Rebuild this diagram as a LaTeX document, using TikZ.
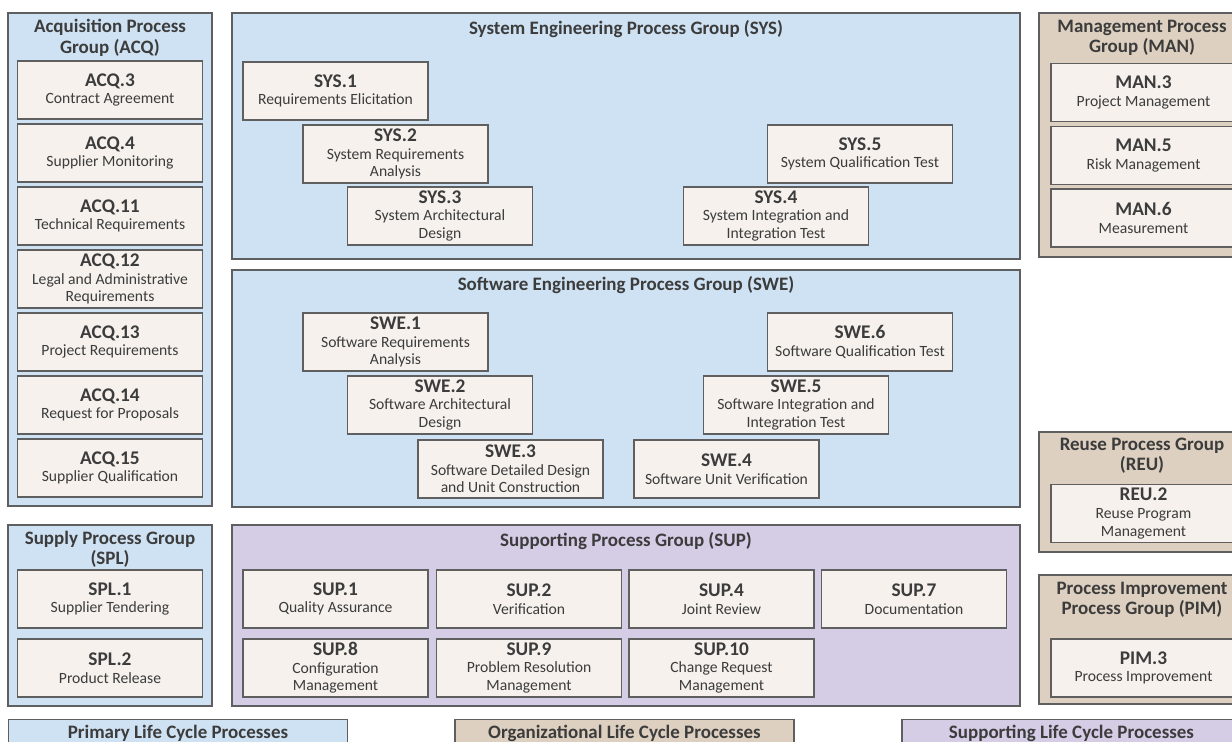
\documentclass[tikz,border=0pt]{standalone}
\usepackage{fontspec}
\setmainfont{Carlito}
\usepackage{tikz}

\definecolor{grpblue}{RGB}{207,226,243}
\definecolor{grptan}{RGB}{221,208,192}
\definecolor{grppurple}{RGB}{213,204,230}
\definecolor{boxbeige}{RGB}{246,241,236}
\definecolor{edgegray}{RGB}{95,95,95}
\definecolor{textgray}{RGB}{60,60,60}

\tikzset{
  grp/.style={draw=edgegray,line width=0.7pt},
  grptitle/.style={align=center,text=textgray,inner sep=0pt,
    font=\fontsize{10.8}{11.6}\bfseries\selectfont},
  proc/.style={draw=edgegray,line width=0.7pt,fill=boxbeige,
    minimum width=3.7cm,minimum height=1.16cm,inner sep=1pt,
    align=center,text=textgray,font=\fontsize{8.9}{10}\selectfont},
  legend/.style={draw=edgegray,line width=0.7pt,minimum width=6.78cm,
    minimum height=0.56cm,inner sep=0pt,anchor=north,text=textgray,
    font=\fontsize{10.8}{12}\bfseries\selectfont},
}
\newcommand{\pid}[1]{{\fontsize{11}{12}\bfseries\selectfont #1}}

\begin{document}
\begin{tikzpicture}[x=0.02cm,y=-0.02cm]
  \useasboundingbox (0,0) rectangle (1232,742);
  \clip (0,0) rectangle (1232,742);

  % acquisition group
  \draw[grp,fill=grpblue] (8,13) rectangle (212,506);
  \node[grptitle] (acqt) at (110,38) {Acquisition Process\\Group (ACQ)};
  \node[proc] (acq3) at (110,90) {\pid{ACQ.3}\\Contract Agreement};
  \node[proc] (acq4) at (110,153) {\pid{ACQ.4}\\Supplier Monitoring};
  \node[proc] (acq11) at (110,216) {\pid{ACQ.11}\\Technical Requirements};
  \node[proc] (acq12) at (110,279) {\pid{ACQ.12}\\Legal and Administrative\\Requirements};
  \node[proc] (acq13) at (110,342) {\pid{ACQ.13}\\Project Requirements};
  \node[proc] (acq14) at (110,405) {\pid{ACQ.14}\\Request for Proposals};
  \node[proc] (acq15) at (110,468) {\pid{ACQ.15}\\Supplier Qualification};

  % system engineering group
  \draw[grp,fill=grpblue] (232,13) rectangle (1020,259);
  \node[grptitle] (syst) at (626,29) {System Engineering Process Group (SYS)};
  \node[proc] (sys1) at (335.5,91) {\pid{SYS.1}\\Requirements Elicitation};
  \node[proc] (sys2) at (395.5,154) {\pid{SYS.2}\\System Requirements\\Analysis};
  \node[proc] (sys3) at (440,216) {\pid{SYS.3}\\System Architectural\\Design};
  \node[proc] (sys4) at (776,216) {\pid{SYS.4}\\System Integration and\\Integration Test};
  \node[proc] (sys5) at (860,154) {\pid{SYS.5}\\System Qualification Test};

  % software engineering group
  \draw[grp,fill=grpblue] (232,270) rectangle (1020,507);
  \node[grptitle] (swet) at (626,285) {Software Engineering Process Group (SWE)};
  \node[proc] (swe1) at (395.5,342) {\pid{SWE.1}\\Software Requirements\\Analysis};
  \node[proc] (swe2) at (440,405) {\pid{SWE.2}\\Software Architectural\\Design};
  \node[proc] (swe3) at (510.5,469) {\pid{SWE.3}\\Software Detailed Design\\and Unit Construction};
  \node[proc] (swe4) at (726.5,469) {\pid{SWE.4}\\Software Unit Verification};
  \node[proc] (swe5) at (796,405) {\pid{SWE.5}\\Software Integration and\\Integration Test};
  \node[proc] (swe6) at (860,342) {\pid{SWE.6}\\Software Qualification Test};

  % supply group
  \draw[grp,fill=grpblue] (8,525) rectangle (212,706);
  \node[grptitle] (splt) at (110,549) {Supply Process Group\\(SPL)};
  \node[proc] (spl1) at (110,599) {\pid{SPL.1}\\Supplier Tendering};
  \node[proc] (spl2) at (110,668) {\pid{SPL.2}\\Product Release};

  % supporting group
  \draw[grp,fill=grppurple] (232,525) rectangle (1020,706);
  \node[grptitle] (supt) at (626,541) {Supporting Process Group (SUP)};
  \node[proc] (sup1) at (335.5,599) {\pid{SUP.1}\\Quality Assurance};
  \node[proc] (sup2) at (529,599) {\pid{SUP.2}\\Verification};
  \node[proc] (sup4) at (721.5,599) {\pid{SUP.4}\\Joint Review};
  \node[proc] (sup7) at (914,599) {\pid{SUP.7}\\Documentation};
  \node[proc] (sup8) at (335.5,668) {\pid{SUP.8}\\Configuration\\Management};
  \node[proc] (sup9) at (529,668) {\pid{SUP.9}\\Problem Resolution\\Management};
  \node[proc] (sup10) at (721.5,668) {\pid{SUP.10}\\Change Request\\Management};

  % management group
  \draw[grp,fill=grptan] (1039,13) rectangle (1245,257);
  \node[grptitle] (mant) at (1142,38) {Management Process\\Group (MAN)};
  \node[proc] (man3) at (1143.5,92.5) {\pid{MAN.3}\\Project Management};
  \node[proc] (man5) at (1143.5,155.5) {\pid{MAN.5}\\Risk Management};
  \node[proc] (man6) at (1143.5,218) {\pid{MAN.6}\\Measurement};

  % reuse group
  \draw[grp,fill=grptan] (1039,432) rectangle (1245,552);
  \node[grptitle] (reut) at (1142,456) {Reuse Process Group\\(REU)};
  \node[proc] (reu2) at (1143.5,513.5) {\pid{REU.2}\\Reuse Program\\Management};

  % process improvement group
  \draw[grp,fill=grptan] (1039,575) rectangle (1245,704);
  \node[grptitle] (pimt) at (1142,600) {Process Improvement\\Process Group (PIM)};
  \node[proc] (pim3) at (1143.5,668) {\pid{PIM.3}\\Process Improvement};

  % legend
  \node[legend,fill=grpblue] (leg1) at (178,719) {Primary Life Cycle Processes};
  \node[legend,fill=grptan] (leg2) at (624.5,719) {Organizational Life Cycle Processes};
  \node[legend,fill=grppurple] (leg3) at (1071.5,719) {Supporting Life Cycle Processes};
\end{tikzpicture}
\end{document}
